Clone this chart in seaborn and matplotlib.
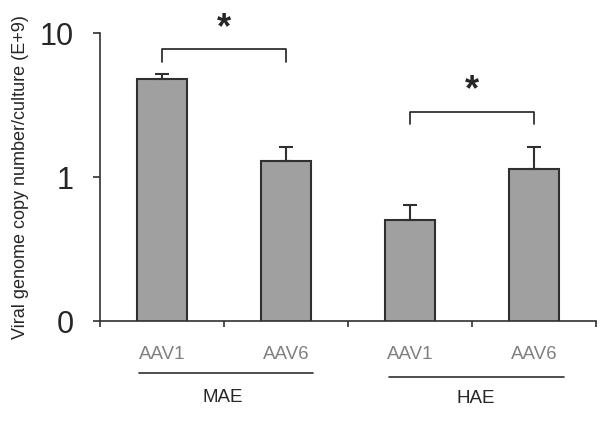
import matplotlib
matplotlib.use("Agg")
import matplotlib.pyplot as plt
import seaborn as sns
import pandas as pd

# values (log scale, E+9)
groups = ["MAE", "MAE", "HAE", "HAE"]
vectors = ["AAV1", "AAV6", "AAV1", "AAV6"]
copy_number = [4.82, 1.30, 0.50, 1.13]
error_up = [0.37, 0.32, 0.14, 0.49]

# significance brackets: (left bar, right bar, top, leg bottom)
brackets = [(0, 1, 7.7, 6.3), (2, 3, 2.82, 2.32)]

y_ticks = [0.1, 1, 10]
y_tick_labels = ["0", "1", "10"]

df = pd.DataFrame({"group": groups, "vector": vectors, "value": copy_number})
df["pos"] = range(len(df))

sns.set_style("white")
plt.rcParams["font.family"] = ["Liberation Sans", "DejaVu Sans"]

fig = plt.figure(figsize=(6.07, 4.21), dpi=100)
ax = fig.add_axes([0.165, 0.2375, 0.817, 0.6841])
ax.set_yscale("log")

sns.barplot(data=df, x="pos", y="value", color="#a0a0a0", width=0.4,
            edgecolor="#303030", linewidth=1.5, saturation=1, ax=ax)

ax.errorbar(df["pos"], df["value"], yerr=[[0] * len(df), error_up], fmt="none",
            ecolor="#303030", elinewidth=1.5, capsize=5, capthick=1.5)

ax.set_ylim(0.1, 10)
ax.set_xlim(-0.5, 3.5)
ax.set_yticks(y_ticks)
ax.set_yticklabels(y_tick_labels, fontsize=22)
ax.yaxis.set_minor_locator(matplotlib.ticker.NullLocator())
ax.tick_params(axis="y", which="major", direction="out", length=5, width=1.2,
               left=True, pad=14, color="#303030")

ax.set_xticks(range(4))
ax.set_xticklabels(vectors, fontsize=13.5, color="#808080")
ax.set_xticks([-0.5, 0.5, 1.5, 2.5, 3.5], minor=True)
ax.tick_params(axis="x", which="major", length=0, pad=18)
ax.tick_params(axis="x", which="minor", direction="out", length=4, width=1.2,
               bottom=True, color="#303030")
ax.set_xlabel("")
ax.set_ylabel("Viral genome copy number/culture (E+9)", fontsize=13, labelpad=8)

for side in ["top", "right"]:
    ax.spines[side].set_visible(False)
for side in ["left", "bottom"]:
    ax.spines[side].set_color("#303030")
    ax.spines[side].set_linewidth(1.2)

# significance brackets
for x0, x1, top, low in brackets:
    ax.plot([x0, x0, x1, x1], [low, top, top, low], color="#202020", lw=1.2)
    ax.text((x0 + x1) / 2, top * 1.06, "*", ha="center", va="bottom",
            fontsize=26, fontweight="bold")

# group lines and labels under the axis
trans = matplotlib.transforms.blended_transform_factory(ax.transData, ax.transAxes)
ax.plot([-0.19, 1.22], [-0.18, -0.18], color="#303030", lw=1.2,
        transform=trans, clip_on=False)
ax.plot([1.83, 3.24], [-0.195, -0.195], color="#303030", lw=1.2,
        transform=trans, clip_on=False)
ax.text(0.49, -0.265, "MAE", transform=trans, ha="center", va="center", fontsize=13.5)
ax.text(2.53, -0.27, "HAE", transform=trans, ha="center", va="center", fontsize=13.5)

fig.savefig("out.png", dpi=100)
